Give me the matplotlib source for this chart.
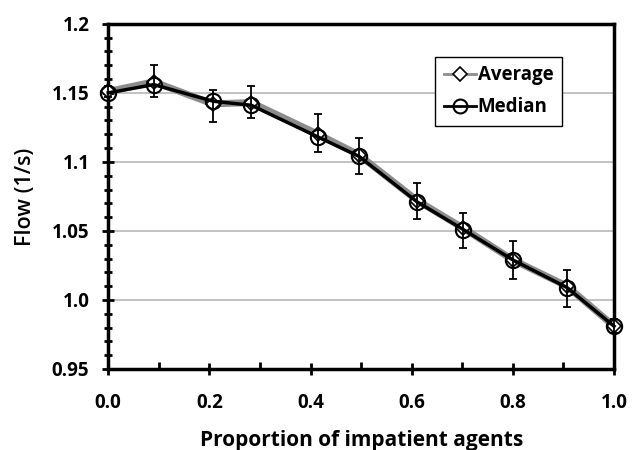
import numpy as np
import matplotlib.pyplot as plt
from matplotlib.ticker import MultipleLocator, FixedLocator
from matplotlib.lines import Line2D

plt.rcParams["font.family"] = ["Open Sans", "DejaVu Sans"]

proportion = [0.0, 0.09, 0.207, 0.283, 0.415, 0.496, 0.611, 0.702, 0.80, 0.907, 1.0]
flow_avg = [1.151, 1.158, 1.142, 1.143, 1.120, 1.105, 1.072, 1.052, 1.029, 1.010, 0.981]
flow_med = [1.150, 1.156, 1.144, 1.141, 1.118, 1.104, 1.071, 1.051, 1.029, 1.009, 0.981]
err_low = [1.147, 1.147, 1.129, 1.132, 1.107, 1.091, 1.059, 1.038, 1.015, 0.995, 0.976]
err_high = [1.155, 1.170, 1.152, 1.155, 1.135, 1.117, 1.085, 1.063, 1.043, 1.022, 0.986]

y_ticks = [0.95, 1.0, 1.05, 1.1, 1.15, 1.2]
y_labels = ["0.95", "1.0", "1.05", "1.1", "1.15", "1.2"]
x_ticks = [0.0, 0.2, 0.4, 0.6, 0.8, 1.0]
x_labels = ["0.0", "0.2", "0.4", "0.6", "0.8", "1.0"]

fig = plt.figure(figsize=(6.33, 4.5), dpi=100)
ax = fig.add_axes([0.171, 0.18, 0.799, 0.767])

ax.plot(proportion, flow_avg, color="#8c8c8c", lw=5, marker="D", ms=7,
        mfc="white", mec="black", mew=1.2, zorder=3, clip_on=False)
yerr = [np.array(flow_med) - np.array(err_low), np.array(err_high) - np.array(flow_med)]
ax.errorbar(proportion, flow_med, yerr=yerr, fmt="none", ecolor="black",
            elinewidth=1.3, capsize=3, capthick=1.3, zorder=4, clip_on=False)
ax.plot(proportion, flow_med, color="black", lw=2.5, marker="o", ms=11,
        mfc="none", mec="black", mew=1.5, zorder=5, clip_on=False)

ax.set_xlim(0, 1.0)
ax.set_ylim(0.95, 1.2)
ax.yaxis.set_major_locator(FixedLocator(y_ticks))
ax.set_yticklabels(y_labels)
ax.yaxis.set_minor_locator(MultipleLocator(0.01))
ax.xaxis.set_major_locator(FixedLocator(x_ticks))
ax.set_xticklabels(x_labels)
ax.xaxis.set_minor_locator(MultipleLocator(0.1))

ax.grid(axis="y", which="major", color="#bdbdbd", lw=1.3)
ax.set_axisbelow(True)

for s in ax.spines.values():
    s.set_linewidth(2.5)
    s.set_color("black")

ax.tick_params(axis="both", which="major", direction="inout", length=9, width=2,
               labelsize=13.5)
ax.tick_params(axis="x", which="major", pad=13)
ax.tick_params(axis="y", which="major", pad=9)
ax.tick_params(axis="y", which="minor", direction="inout", length=6, width=2)
ax.tick_params(axis="x", which="minor", direction="in", length=5, width=2)
for lab in ax.get_xticklabels() + ax.get_yticklabels():
    lab.set_fontweight("bold")

ax.set_xlabel("Proportion of impatient agents", fontsize=15, fontweight="bold", labelpad=12)
ax.set_ylabel("Flow (1/s)", fontsize=15.5, fontweight="semibold", labelpad=11)

handles = [
    Line2D([], [], color="#8c8c8c", lw=2, marker="D", ms=7, mfc="white",
           mec="black", mew=1.2),
    Line2D([], [], color="black", lw=2, marker="o", ms=10, mfc="none",
           mec="black", mew=1.5),
]
leg = ax.legend(handles, ["Average", "Median"], loc="upper left",
                bbox_to_anchor=(0.647, 0.905), prop={"weight": "bold", "size": 13.5},
                fancybox=False, handlelength=1.7, handletextpad=0.1, borderpad=0.45,
                labelspacing=0.65, framealpha=1, borderaxespad=0)
leg.get_frame().set_edgecolor("black")
leg.get_frame().set_linewidth(1.0)

fig.savefig("out.png", dpi=100)
